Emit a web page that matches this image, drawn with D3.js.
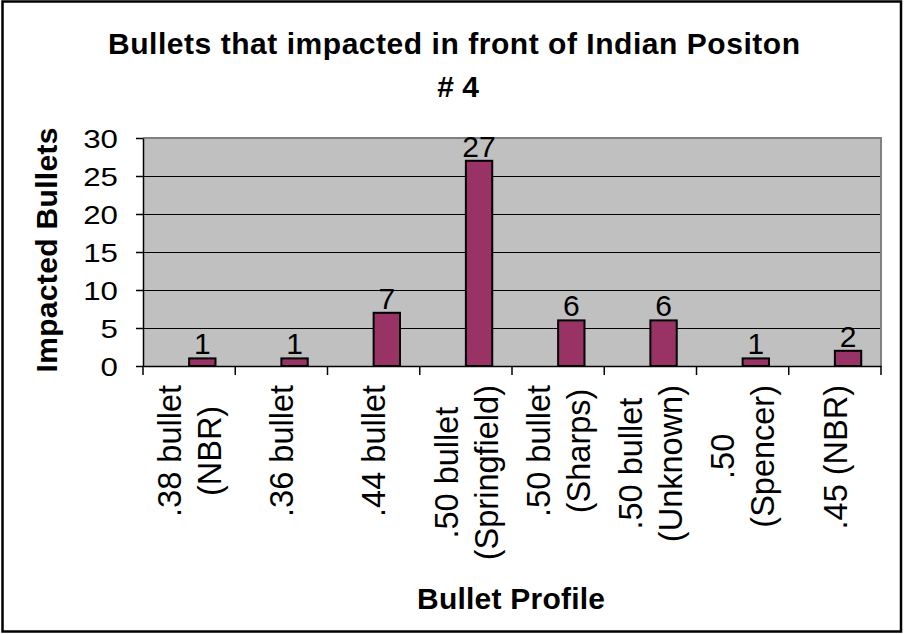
<!DOCTYPE html>
<html>
<head>
<meta charset="utf-8">
<script src="https://cdn.jsdelivr.net/npm/d3@7"></script>
<style>
  body { margin: 0; background: #fff; }
  svg { display: block; font-family: "Liberation Sans", Arial, sans-serif; }
</style>
</head>
<body>
<div id="chart"></div>
<script>
// chart data
const title = ["Bullets that impacted in front of Indian Positon", "# 4"];
const categories = [
  [".38 bullet", "(NBR)"],
  [".36 bullet"],
  [".44 bullet"],
  [".50 bullet", "(Springfield)"],
  [".50 bullet", "(Sharps)"],
  [".50 bullet", "(Unknown)"],
  [".50", "(Spencer)"],
  [".45 (NBR)"]
];
const counts = [1, 1, 7, 27, 6, 6, 1, 2];
const yTicks = [0, 5, 10, 15, 20, 25, 30];
// the original sheet had a second (empty) series, which is why bars sit right of centre
const seriesNames = ["(empty)", "Impacted"];

const width = 904, height = 634;
const plot = { left: 143, right: 881, top: 138, bottom: 366 };

const svg = d3.select("#chart").append("svg")
  .attr("width", width)
  .attr("height", height);

// outer frame
svg.append("rect")
  .attr("x", 2.5).attr("y", 1.5)
  .attr("width", 898.5).attr("height", 630)
  .attr("fill", "#fff")
  .attr("stroke", "#000")
  .attr("stroke-width", 2.5);

const keys = categories.map(c => c.join(" "));
const x = d3.scaleBand().domain(keys).range([plot.left, plot.right]);
const y = d3.scaleLinear().domain([0, 30]).range([plot.bottom, plot.top]);
const xs = d3.scaleBand().domain(seriesNames)
  .range([0, x.bandwidth()])
  .paddingInner(0).paddingOuter(0.75);

// plot area
svg.append("rect")
  .attr("x", plot.left).attr("y", plot.top)
  .attr("width", plot.right - plot.left)
  .attr("height", plot.bottom - plot.top)
  .attr("fill", "#c0c0c0");

// gridlines
svg.append("g")
  .selectAll("line")
  .data(yTicks.filter(t => t > 0 && t < 30))
  .join("line")
  .attr("x1", plot.left).attr("x2", plot.right)
  .attr("y1", d => Math.round(y(d)) + 0.5).attr("y2", d => Math.round(y(d)) + 0.5)
  .attr("stroke", "#000")
  .attr("stroke-width", 1);

// plot border top + right (grey)
svg.append("path")
  .attr("d", `M${plot.left},${y(30)}H${plot.right}V${plot.bottom}`)
  .attr("fill", "none")
  .attr("stroke", "#808080")
  .attr("stroke-width", 2);

// bars
svg.append("g")
  .selectAll("rect")
  .data(counts)
  .join("rect")
  .attr("x", (d, i) => x(keys[i]) + xs("Impacted"))
  .attr("y", d => y(d))
  .attr("width", xs.bandwidth())
  .attr("height", d => y(0) - y(d))
  .attr("fill", "#993366")
  .attr("stroke", "#000")
  .attr("stroke-width", 2);

// value labels
svg.append("g")
  .selectAll("text")
  .data(counts)
  .join("text")
  .attr("x", (d, i) => x(keys[i]) + xs("Impacted") + xs.bandwidth() / 2)
  .attr("y", d => y(d) - 4)
  .attr("text-anchor", "middle")
  .attr("font-size", 30)
  .attr("fill", "#000")
  .text(d => d);

// y axis
const yAxis = svg.append("g")
  .attr("transform", `translate(${plot.left},0)`)
  .call(d3.axisLeft(y).tickValues(yTicks).tickSize(7).tickSizeOuter(0));
yAxis.select(".domain").attr("stroke", "#000").attr("stroke-width", 1.5);
yAxis.selectAll(".tick line").attr("stroke", "#000").attr("stroke-width", 1.5);
yAxis.selectAll(".tick text")
  .attr("x", null)
  .attr("dy", "0.36em")
  .attr("transform", "translate(-25,0) scale(1.25,1)")
  .attr("font-size", 25)
  .attr("font-family", "'Liberation Sans', Arial, sans-serif")
  .attr("fill", "#000");

// x axis
const xAxis = svg.append("g")
  .attr("transform", `translate(0,${plot.bottom})`)
  .call(d3.axisBottom(x).tickSize(0).tickFormat(""));
xAxis.select(".domain").attr("stroke", "#000").attr("stroke-width", 1.5);
xAxis.selectAll(".tick").remove();
xAxis.selectAll(".divider")
  .data([...keys.map(k => x(k)), plot.right])
  .join("line")
  .attr("class", "divider")
  .attr("x1", d => d).attr("x2", d => d)
  .attr("y1", 0).attr("y2", 9)
  .attr("stroke", "#000")
  .attr("stroke-width", 1.5);

// category labels, rotated, lines centred on each other
const labelSize = 32.5, lineH = 40, labelTop = 385;
categories.forEach((lines, i) => {
  const cx = x(keys[i]) + x.bandwidth() / 2;
  const g = svg.append("g");
  const texts = g.selectAll("text")
    .data(lines)
    .join("text")
    .attr("font-size", labelSize)
    .attr("text-anchor", "middle")
    .attr("fill", "#000")
    .text(d => d);
  const maxLen = d3.max(texts.nodes(), n => n.getComputedTextLength());
  const cy = labelTop + maxLen / 2;
  texts.attr("transform", (d, j) => {
    const bx = cx + (j - (lines.length - 1) / 2) * lineH + labelSize * 0.36;
    return `translate(${bx},${cy}) rotate(-90)`;
  });
});

// titles
svg.append("text")
  .attr("x", 454).attr("y", 54)
  .attr("text-anchor", "middle")
  .attr("font-size", 30).attr("font-weight", "bold")
  .attr("textLength", 692).attr("lengthAdjust", "spacing")
  .text(title[0]);
svg.append("text")
  .attr("x", 458).attr("y", 97)
  .attr("text-anchor", "middle")
  .attr("font-size", 30).attr("font-weight", "bold")
  .text(title[1]);

svg.append("text")
  .attr("x", 511).attr("y", 609)
  .attr("text-anchor", "middle")
  .attr("font-size", 30).attr("font-weight", "bold")
  .attr("textLength", 188).attr("lengthAdjust", "spacing")
  .text("Bullet Profile");

svg.append("text")
  .attr("transform", "translate(57,250) rotate(-90)")
  .attr("text-anchor", "middle")
  .attr("font-size", 30).attr("font-weight", "bold")
  .attr("textLength", 245).attr("lengthAdjust", "spacing")
  .text("Impacted Bullets");
</script>
</body>
</html>
